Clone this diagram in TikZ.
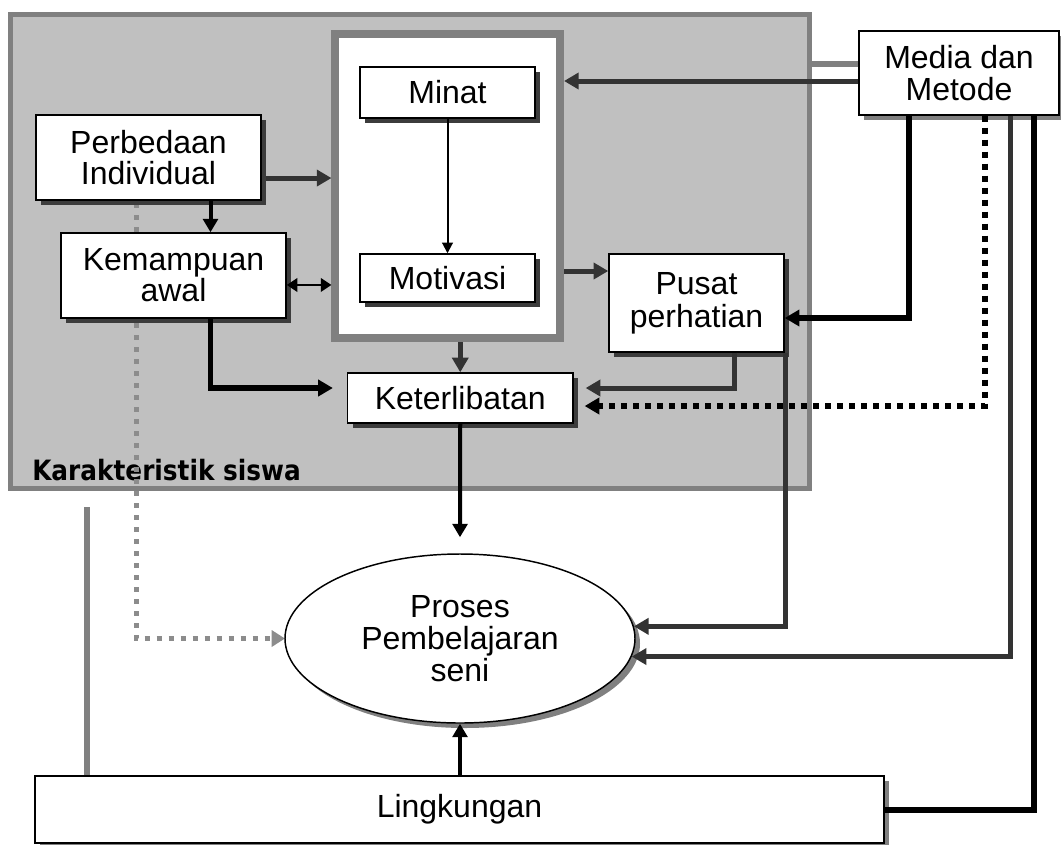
\documentclass[tikz,border=0pt]{standalone}
\usepackage{fontspec}
\setmainfont{Liberation Sans}
\newfontfamily\labelfont[FakeStretch=0.885]{DejaVu Sans}
\usetikzlibrary{arrows.meta,shapes.geometric,shadows,calc}
\definecolor{dgray}{HTML}{333333}
\definecolor{sgray}{HTML}{3C3C3C}
\definecolor{mgray}{HTML}{808080}
\definecolor{lgray}{HTML}{C0C0C0}
\definecolor{dotgray}{HTML}{8C8C8C}
\begin{document}
\begin{tikzpicture}[x=0.75pt,y=-0.75pt,
  box/.style={draw=black, line width=1.1pt, fill=white, rectangle, align=center, inner sep=0pt,
    font=\fontsize{24}{23.5}\selectfont},
  dshadow/.style={drop shadow={shadow xshift=4pt, shadow yshift=-4pt, fill=sgray, opacity=1}},
  gshadow/.style={drop shadow={shadow xshift=3.75pt, shadow yshift=-3.75pt, fill=mgray, opacity=1}},
  bigtip/.style={-{Triangle[length=11pt,width=12pt]}},
  dgline/.style={draw=dgray, line width=3.75pt, bigtip},
  bkline/.style={draw=black, line width=4pt, bigtip},
  midline/.style={draw=black, line width=3pt, -{Triangle[length=10pt,width=11pt]}},
]
\useasboundingbox (0,0) rectangle (1061,844);

% containers
\node[draw=mgray, fill=lgray, line width=3.75pt, minimum width=599.25pt, minimum height=355.5pt, inner sep=0pt] (outer) at (410,251) {};
\node[draw=mgray, fill=white, line width=6pt, minimum width=168.4pt, minimum height=228pt, inner sep=0pt] (inner) at (447.75,186) {};
\node[anchor=base west, font=\labelfont\bfseries\fontsize{21}{21}\selectfont, inner sep=0pt] (lbl) at (32,480) {Karakteristik siswa};

% lanes
\coordinate (l136) at (136,0);
\coordinate (l210) at (210.5,0);
\coordinate (l734) at (734.5,0);
\coordinate (l785) at (785,0);
\coordinate (l909) at (909,0);
\coordinate (l984) at (984.5,0);
\coordinate (l1010) at (1010,0);
\coordinate (l1034) at (1034,0);
\coordinate (gtop) at (87,507);
\coordinate (dtop) at (136,203);
\coordinate (pleft) at (285,638.5);

% dotted grey connector lies beneath the boxes
\draw[draw=dotgray, line width=3.75pt, dash pattern=on 3.75pt off 5.25pt, -{Triangle[length=10pt,width=12pt]}]
  (dtop) |- (pleft);

% boxes
\node[box, dshadow, minimum width=131.25pt, minimum height=38.25pt] (minat) at (447.5,92.5) {Minat};
\node[box, dshadow, minimum width=131.25pt, minimum height=36pt] (motiv) at (447.5,278) {Motivasi};
\node[box, dshadow, minimum width=168.75pt, minimum height=63.75pt] (perb) at (148.5,157.5) {Perbedaan\\Individual};
\node[box, dshadow, minimum width=168.75pt, minimum height=63.75pt, font=\fontsize{24}{21}\selectfont] (kem) at (173.5,275.5) {Kemampuan\\awal};
\node[box, dshadow, minimum width=169pt, minimum height=37.5pt] (ket) at (460.25,398) {Keterlibatan};
\node[box, dshadow, minimum width=131.25pt, minimum height=73.5pt, font=\fontsize{24}{24.75}\selectfont] (pusat) at (696.5,303) {Pusat\\perhatian};
\node[box, gshadow, minimum width=150pt, minimum height=63pt] (media) at (959,73) {Media dan\\Metode};
\node[box, gshadow, minimum width=636.75pt, minimum height=50.25pt] (lingk) at (459.5,809.5) {Lingkungan};
\node[box, gshadow, ellipse, minimum width=262.5pt, minimum height=126.75pt, font=\fontsize{24}{24}\selectfont] (proc) at (460,638.5) {Proses\\Pembelajaran\\seni};

% connectors
\draw[draw=mgray, line width=4.5pt] (gtop) -- (gtop |- lingk.north);
\draw[draw=mgray, line width=4.5pt] ([yshift=6.75pt]media.west) -- ([yshift=6.75pt]media.west -| outer.east);
\draw[dgline] ([yshift=-6pt]media.west) -- ([yshift=-6pt]media.west -| inner.east);
\draw[bkline, line join=miter] (media.south -| l909) |- ([yshift=-11.25pt]pusat.east);
\draw[draw=black, line width=4.5pt, dash pattern=on 4.5pt off 4.5pt, -{Triangle[length=11pt,width=12pt]}]
  (media.south -| l984) |- ([xshift=8.25pt,yshift=-6pt]ket.east);
\draw[dgline] (media.south -| l1010) |- (proc.-6.2);
\draw[draw=black, line width=4.5pt] (media.south -| l1034) |- (lingk.east);
\draw[dgline] (pusat.south -| l785) |- (proc.4.8);
\draw[dgline] (pusat.south -| l734) |- ([xshift=9pt,yshift=7.5pt]ket.east);
\draw[dgline] ([yshift=24pt]pusat.west -| inner.east) -- ([yshift=24pt]pusat.west);
\draw[dgline] (ket.north |- inner.south) -- (ket.north);
\draw[dgline] ([xshift=3pt,yshift=-15.4pt]perb.east) -- ([yshift=-15.4pt]perb.east -| inner.west);
\draw[midline] (perb.south -| l210) -- (kem.north -| l210);
\draw[draw=black, line width=2.2pt, {Triangle[length=8pt,width=10pt]}-{Triangle[length=8pt,width=10pt]}]
  ([yshift=-7.1pt]kem.east) -- ([yshift=-7.1pt]kem.east -| inner.west);
\draw[bkline] (kem.south -| l210) |- ([xshift=-10.5pt,yshift=7.5pt]ket.west);
\draw[draw=black, line width=1.5pt, -{Triangle[length=8pt,width=8pt]}] (minat.south) -- (motiv.north);
\draw[midline] (ket.south) -- ([yshift=12pt]proc.north);
\draw[midline] (proc.south |- lingk.north) -- (proc.south);
\end{tikzpicture}
\end{document}
